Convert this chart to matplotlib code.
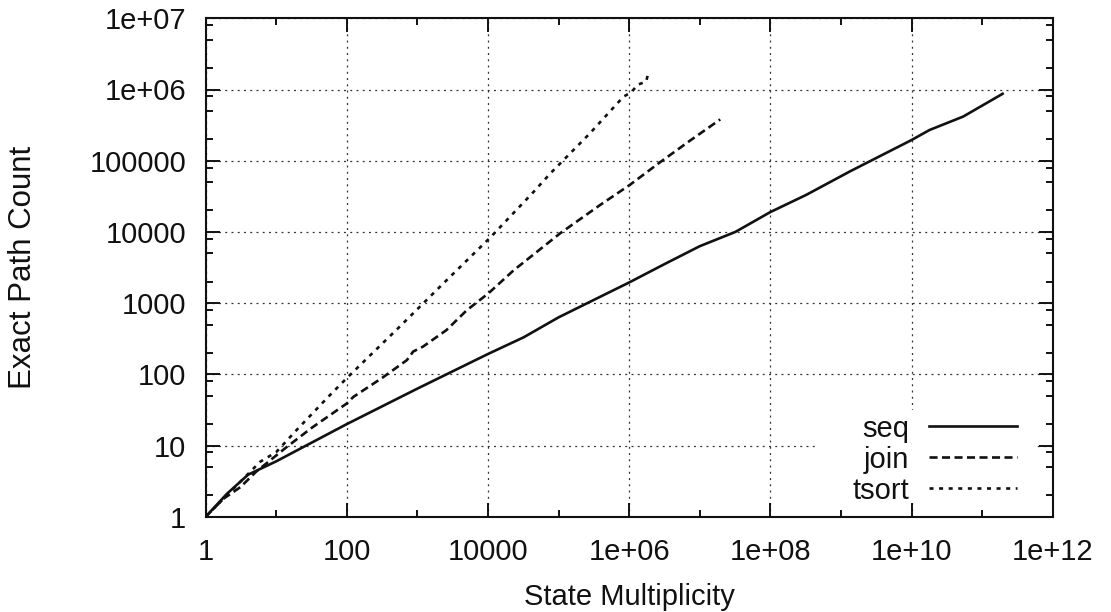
import matplotlib
matplotlib.use('Agg')
import matplotlib.pyplot as plt
from matplotlib.ticker import FixedLocator, FixedFormatter, NullFormatter
from matplotlib.patches import Rectangle
from matplotlib.lines import Line2D

# ---------------- data ----------------
series_names = ['seq', 'join', 'tsort']

seq_x = [1, 2, 4, 10, 100, 1000, 1e4, 3.2e4, 1e5, 3.9e5, 1e6, 3.2e6,
         1e7, 3.2e7, 1e8, 3.2e8, 1.35e9, 1e10, 1.8e10, 5.4e10, 1.95e11]
seq_y = [1, 2.1, 3.9, 6.0, 20, 63, 193, 331, 631, 1230, 1950, 3550,
         6300, 10000, 19000, 33000, 71000, 195000, 270000, 417000, 870000]

join_x = [1, 1.8, 3.1, 5.2, 14, 32, 100, 123, 316, 708, 871, 1200, 2570, 5000,
          1.02e4, 2.3e4, 1.05e5, 3.9e5, 1.02e6, 2.75e6, 7.2e6, 1.95e7]
join_y = [1, 1.8, 2.6, 4.3, 9.5, 17.8, 39, 48, 89, 158, 209, 245, 417, 794,
          1380, 2880, 9550, 24000, 45700, 95500, 190000, 380000]

tsort_x = [1, 3.2, 5.9, 10, 19.5, 57.5, 105, 562, 2340, 1.07e4, 4.4e4, 7.6e4,
           1.62e5, 2.75e5, 8.3e5, 1.07e6, 1.32e6, 1.74e6, 1.86e6, 2.0e6]
tsort_y = [1, 3.2, 5.9, 8.1, 16.6, 51, 93, 468, 1900, 8300, 36300, 66000,
           141000, 240000, 794000, 912000, 1.17e6, 1.29e6, 1.7e6, 1.78e6]

x_ticks = [1, 1e2, 1e4, 1e6, 1e8, 1e10, 1e12]
x_tick_labels = ['1', '100', '10000', '1e+06', '1e+08', '1e+10', '1e+12']
x_minor_ticks = [10, 1e3, 1e5, 1e7, 1e9, 1e11]
y_ticks = [1, 10, 100, 1000, 1e4, 1e5, 1e6, 1e7]
y_tick_labels = ['1', '10', '100', '1000', '10000', '100000', '1e+06', '1e+07']
y_minor_ticks = [m * 10 ** k for k in range(7) for m in (2, 5, 8)]

x_label = 'State Multiplicity'
y_label = 'Exact Path Count'

# ---------------- style ----------------
plt.rcParams['font.family'] = ['Liberation Sans', 'DejaVu Sans']
plt.rcParams['lines.scale_dashes'] = False
FS = 21
INK = '#111111'

W, H = 1111, 612
fig = plt.figure(figsize=(W / 100, H / 100), dpi=100)
ax_l, ax_r, ax_t, ax_b = 205.7, 1052.7, 18.3, 516.7
ax = fig.add_axes([ax_l / W, 1 - ax_b / H, (ax_r - ax_l) / W, (ax_b - ax_t) / H])
ax.set_xscale('log')
ax.set_yscale('log')
ax.set_xlim(1, 1e12)
ax.set_ylim(1, 1e7)

line_styles = [dict(linestyle='-'),
               dict(linestyle=(0, (5.8, 3.2))),
               dict(linestyle=(0, (2.9, 4.0)))]
xs = [seq_x, join_x, tsort_x]
ys = [seq_y, join_y, tsort_y]
for name, x, y, st in zip(series_names, xs, ys, line_styles):
    ax.plot(x, y, color=INK, lw=1.9, zorder=2, **st)

ax.xaxis.set_major_locator(FixedLocator(x_ticks))
ax.xaxis.set_major_formatter(FixedFormatter(x_tick_labels))
ax.xaxis.set_minor_locator(FixedLocator(x_minor_ticks))
ax.xaxis.set_minor_formatter(NullFormatter())
ax.yaxis.set_major_locator(FixedLocator(y_ticks))
ax.yaxis.set_major_formatter(FixedFormatter(y_tick_labels))
ax.yaxis.set_minor_locator(FixedLocator(y_minor_ticks))
ax.yaxis.set_minor_formatter(NullFormatter())

ax.tick_params(which='both', direction='in', top=True, right=True,
               width=1.4, color=INK, labelsize=FS, labelcolor=INK)
ax.tick_params(which='major', length=10)
ax.tick_params(which='minor', length=5)
ax.tick_params(axis='x', which='major', pad=15)
ax.tick_params(axis='y', which='major', pad=14)

ax.grid(True, which='major', color='#333333', lw=0.9, linestyle=(0, (1.4, 3.1)))
for sp in ax.spines.values():
    sp.set_linewidth(1.5)
    sp.set_color(INK)
    sp.set_zorder(5)

ax.set_xlabel(x_label, fontsize=FS, color=INK)
ax.xaxis.set_label_coords(0.5, (ax_b - 605) / (ax_b - ax_t))
ax.xaxis.label.set_va('baseline')
ax.set_ylabel(y_label, fontsize=22.5, color=INK)
ax.yaxis.set_label_coords((23 - ax_l) / (ax_r - ax_l), 0.5)
ax.yaxis.label.set_va('center')

# ---------------- key (legend) ----------------
def ax_x(px):
    return (px - ax_l) / (ax_r - ax_l)

def ax_y(py):
    return (ax_b - py) / (ax_b - ax_t)

ax.add_patch(Rectangle((ax_x(818), ax_y(502)), ax_x(1037) - ax_x(818),
                       ax_y(410) - ax_y(502), transform=ax.transAxes,
                       facecolor='white', edgecolor='none', zorder=1.6))
text_base = [436.7, 468.3, 499.3]
line_mid = [426, 457, 488]
for name, st, tb, lm in zip(series_names, line_styles, text_base, line_mid):
    ax.text(ax_x(909), ax_y(tb), name, transform=ax.transAxes, ha='right',
            va='baseline', fontsize=FS, color=INK, zorder=3)
    ax.add_line(Line2D([ax_x(929), ax_x(1017)], [ax_y(lm), ax_y(lm)],
                       transform=ax.transAxes, color=INK, lw=1.9,
                       zorder=3, **st))

fig.savefig('out.png', dpi=100)
